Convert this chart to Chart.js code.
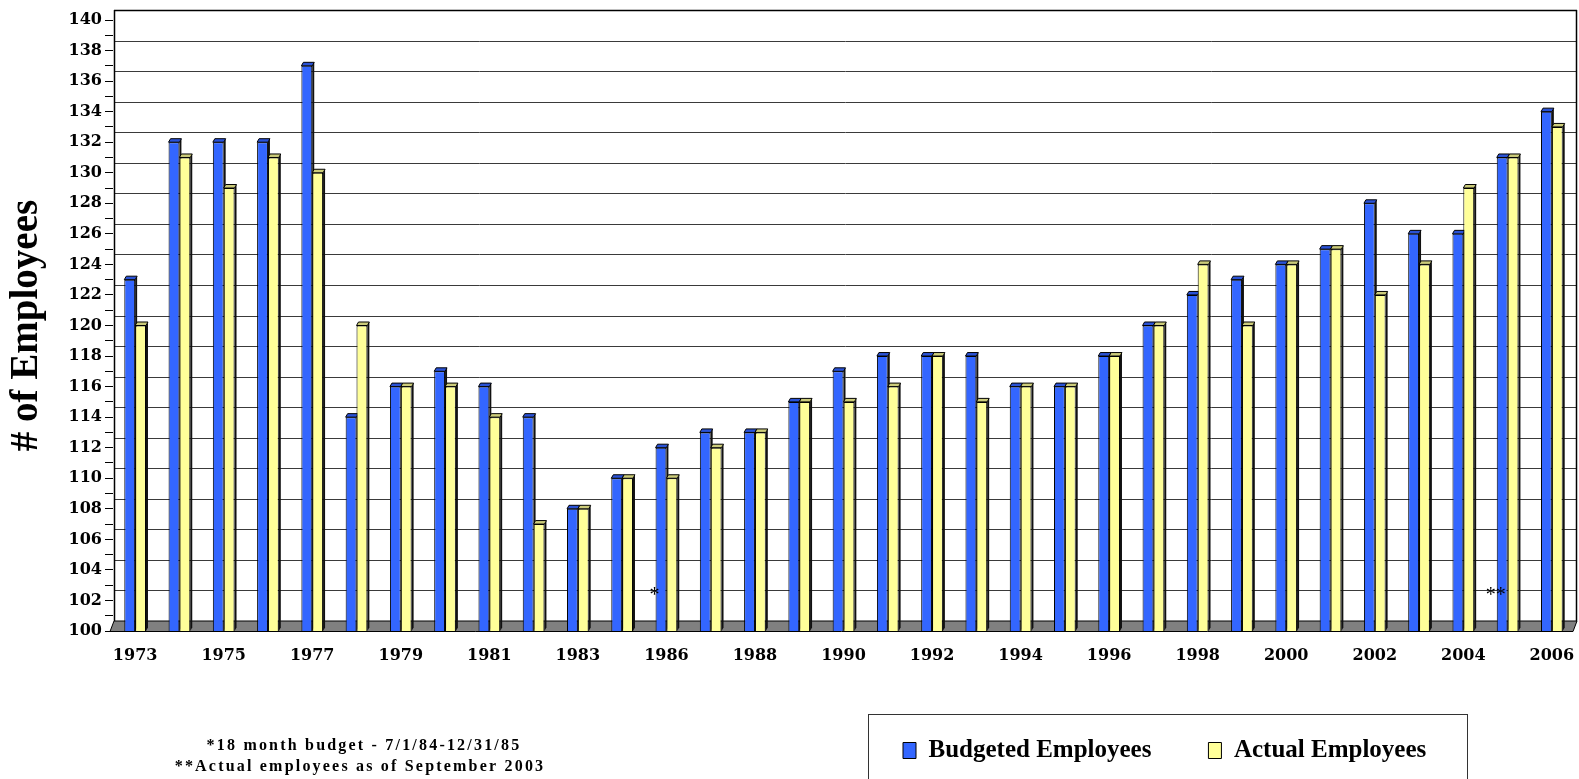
<!DOCTYPE html>
<html>
<head>
<meta charset="utf-8">
<script src="https://cdn.jsdelivr.net/npm/chart.js@4.4.1/dist/chart.umd.min.js"></script>
<style>
html,body{margin:0;padding:0;background:#fff;overflow:hidden}
canvas{display:block}
</style>
</head>
<body>
<canvas id="c" width="1579" height="779"></canvas>
<script>
// ---- data ----
const years = ['1973','1974','1975','1976','1977','1978','1979','1980','1981','1982','1983','1985','1986','1987','1988','1989','1990','1991','1992','1993','1994','1995','1996','1997','1998','1999','2000','2001','2002','2003','2004','2005','2006'];
const budgeted = [123,132,132,132,137,114,116,117,116,114,108,110,112,113,113,115,117,118,118,118,116,116,118,120,122,123,124,125,128,126,126,131,134];
const actual   = [120,131,129,131,130,120,116,116,114,107,108,110,110,112,113,115,115,116,118,115,116,116,118,120,124,120,124,125,122,124,129,131,133];
const seriesNames = ['Budgeted Employees', 'Actual Employees'];
const yAxisTitle = '# of Employees';
const footnotes = ['*18 month budget - 7/1/84-12/31/85', '**Actual employees as of September 2003'];
const noteMarks = [{text: '*', index: 12}, {text: '**', index: 31}];

// ---- styles ----
const faceColors = ['#3366FF', '#FFFF99'];
const capColors = ['#2A52D6', '#CCCC7A'];
const WALL_DX = 3, WALL_DY = 10;
const BAR_DX = 2, BAR_DY = 3.5;

const threeD = {
  id: 'threeD',
  afterLayout(chart) {
    const lg = chart.legend;
    if (lg) { lg.left = 846; lg.right = 1574; lg.width = lg.right - lg.left; }
  },
  beforeDatasetsDraw(chart) {
    const {ctx, chartArea: a, scales: {y}} = chart;
    const yTop = y.getPixelForValue(y.max) - WALL_DY;
    const yBot = y.getPixelForValue(y.min) - WALL_DY;
    ctx.save();
    // back wall grid lines
    ctx.lineWidth = 1;
    ctx.strokeStyle = '#3a3a3a';
    y.ticks.forEach(t => {
      if (t.value % 2 !== 0) return;
      const yy = Math.round(y.getPixelForValue(t.value) - WALL_DY) + 0.5;
      ctx.beginPath();
      ctx.moveTo(a.left + 1, yy);
      ctx.lineTo(a.right + WALL_DX, yy);
      ctx.stroke();
    });
    // wall edges
    ctx.strokeStyle = '#000';
    ctx.lineWidth = 1.5;
    ctx.beginPath();
    ctx.moveTo(a.left + 1.5, yTop); ctx.lineTo(a.left + 1.5, yBot);
    ctx.moveTo(a.right + WALL_DX - 0.5, yTop); ctx.lineTo(a.right + WALL_DX - 0.5, yBot);
    ctx.moveTo(a.left + 1, yTop + 0.5); ctx.lineTo(a.right + WALL_DX, yTop + 0.5);
    ctx.stroke();
    // floor
    ctx.lineWidth = 1;
    ctx.fillStyle = '#808080';
    ctx.beginPath();
    ctx.moveTo(a.left - 3, a.bottom + 0.5);
    ctx.lineTo(a.right - 1, a.bottom + 0.5);
    ctx.lineTo(a.right + WALL_DX, yBot);
    ctx.lineTo(a.left + 1, yBot);
    ctx.closePath();
    ctx.fill();
    ctx.stroke();
    // bar depth: side faces and caps
    chart.data.datasets.forEach((ds, di) => {
      const meta = chart.getDatasetMeta(di);
      meta.data.forEach(bar => {
        const p = bar.getProps(['x', 'y', 'width', 'base'], true);
        const base = Math.min(p.base, a.bottom);
        const l = p.x - p.width / 2, r = p.x + p.width / 2;
        ctx.fillStyle = '#111';
        ctx.beginPath();
        ctx.moveTo(r, p.y); ctx.lineTo(r + BAR_DX, p.y - BAR_DY);
        ctx.lineTo(r + BAR_DX, base - BAR_DY); ctx.lineTo(r, base);
        ctx.closePath(); ctx.fill();
        ctx.fillStyle = capColors[di];
        ctx.strokeStyle = '#000';
        ctx.lineWidth = 1;
        ctx.beginPath();
        ctx.moveTo(l, p.y); ctx.lineTo(l + BAR_DX, p.y - BAR_DY);
        ctx.lineTo(r + BAR_DX, p.y - BAR_DY); ctx.lineTo(r, p.y);
        ctx.closePath(); ctx.fill(); ctx.stroke();
      });
    });
    ctx.restore();
  },
  afterDatasetsDraw(chart) {
    const {ctx, scales: {y}} = chart;
    const meta = chart.getDatasetMeta(0);
    ctx.save();
    ctx.fillStyle = '#000';
    ctx.font = '20px "Liberation Serif"';
    ctx.textAlign = 'center';
    ctx.textBaseline = 'middle';
    noteMarks.forEach(m => {
      const bar = meta.data[m.index];
      const p = bar.getProps(['x', 'width'], true);
      ctx.fillText(m.text, p.x - p.width / 2 - 1, y.getPixelForValue(102.3));
    });
    ctx.restore();
  },
  afterDraw(chart) {
    const {ctx} = chart;
    ctx.save();
    // legend frame
    ctx.strokeStyle = '#333';
    ctx.lineWidth = 1;
    ctx.strokeRect(868.5, 714.5, 599, 100);
    // footnotes
    ctx.fillStyle = '#000';
    ctx.font = 'bold 16px "Liberation Serif"';
    ctx.textAlign = 'center';
    ctx.textBaseline = 'middle';
    try { ctx.letterSpacing = '2.2px'; } catch (e) {}
    ctx.fillText(footnotes[0], 364, 746);
    ctx.fillText(footnotes[1], 360, 767);
    ctx.restore();
  }
};

const tickFont = {family: '"DejaVu Serif"', weight: 'bold', size: 16};

new Chart(document.getElementById('c'), {
  type: 'bar',
  data: {
    labels: years,
    datasets: [
      {label: seriesNames[0], data: budgeted, backgroundColor: faceColors[0], borderColor: '#000', borderWidth: 1},
      {label: seriesNames[1], data: actual, backgroundColor: faceColors[1], borderColor: '#000', borderWidth: 1}
    ]
  },
  options: {
    responsive: false,
    animation: false,
    devicePixelRatio: 1,
    layout: {padding: {top: 20, right: 5, bottom: 6, left: 0}},
    datasets: {bar: {barPercentage: 1, categoryPercentage: 0.49}},
    plugins: {
      tooltip: {enabled: false},
      legend: {
        position: 'bottom',
        align: 'start',
        labels: {
          color: '#000',
          boxWidth: 13,
          boxHeight: 16,
          padding: 57,
          font: {family: '"Liberation Serif"', weight: 'bold', size: 25}
        }
      }
    },
    scales: {
      x: {
        grid: {display: true, drawOnChartArea: false, drawTicks: true, tickLength: 13, tickColor: 'rgba(0,0,0,0)', color: 'rgba(0,0,0,0)'},
        border: {display: false},
        ticks: {
          autoSkip: false, maxRotation: 0, minRotation: 0, padding: 2,
          color: '#000', font: tickFont,
          callback: (v, i) => (i % 2 === 0 ? years[i] : '')
        },
        afterFit: s => { s.height = 50; }
      },
      y: {
        min: 100, max: 140,
        grid: {drawOnChartArea: false, color: '#000', tickColor: '#000', tickLength: 8, lineWidth: 1},
        border: {display: false},
        ticks: {
          stepSize: 1, autoSkip: false, padding: 3,
          color: '#000', font: tickFont,
          callback: v => (v % 2 === 0 ? String(v) : '')
        },
        title: {
          display: true, text: yAxisTitle, color: '#000',
          font: {family: '"Liberation Serif"', weight: 'bold', size: 39}
        },
        afterFit: s => { s.width = 113; }
      }
    }
  },
  plugins: [threeD]
});
</script>
</body>
</html>
